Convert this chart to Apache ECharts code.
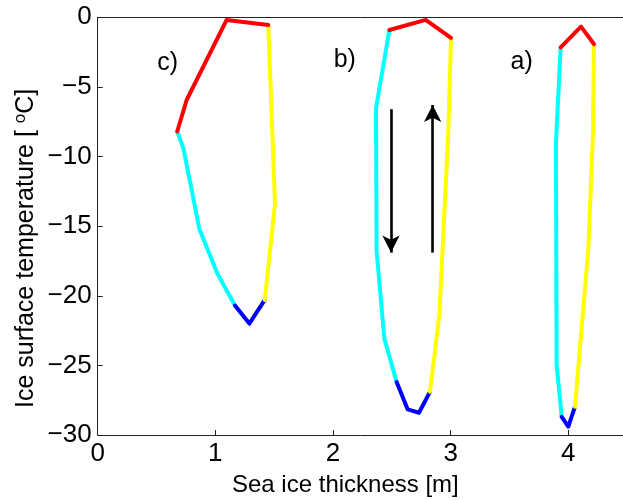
<!DOCTYPE html>
<html><head><meta charset="utf-8">
<script src="https://cdn.jsdelivr.net/npm/echarts@6/dist/echarts.min.js"></script>
<style>html,body{margin:0;padding:0;background:#fff}#c{width:623px;height:500px}</style>
</head><body><div id="c"></div>
<script>
// ---- data (x = sea ice thickness [m], y = ice surface temperature [°C]) ----
// loop c)
const cCyan   = [[0.676,-8.2],[0.728,-9.4],[0.864,-15.2],[1.017,-18.4],[1.167,-20.7]];
const cBlue   = [[1.167,-20.7],[1.289,-22.0],[1.42,-20.3]];
const cYellow = [[1.42,-20.3],[1.507,-13.4],[1.45,-0.55]];
const cRed    = [[1.45,-0.55],[1.096,-0.19],[0.756,-5.94],[0.676,-8.2]];
// loop b)
const bCyan   = [[2.479,-0.91],[2.366,-6.5],[2.37,-16.7],[2.436,-23.06],[2.541,-26.2]];
const bBlue   = [[2.541,-26.2],[2.635,-28.16],[2.731,-28.4],[2.824,-26.9]];
const bYellow = [[2.824,-26.9],[2.904,-21.4],[2.98,-8.3],[3.003,-1.47]];
const bRed    = [[3.003,-1.47],[2.788,-0.19],[2.479,-0.91]];
// loop a)
const aCyan   = [[3.935,-2.16],[3.895,-9.05],[3.901,-24.98],[3.944,-28.7]];
const aBlue   = [[3.944,-28.7],[4.0,-29.4],[4.057,-27.97]];
const aYellow = [[4.057,-27.97],[4.17,-16.7],[4.21,-8.3],[4.218,-1.92]];
const aRed    = [[4.218,-1.92],[4.108,-0.67],[3.935,-2.16]];
// arrows
const arrowDown = [[2.493,-6.6],[2.493,-16.9]];
const arrowUp   = [[2.847,-16.9],[2.847,-6.3]];
// panel labels
const panelLabels = [["c)",0.595,-3.3],["b)",2.10,-3.1],["a)",3.604,-3.2]];
// axes ticks
const xTicks = [0,1,2,3,4];
const yTicks = [-30,-25,-20,-15,-10,-5,0];
const xMax = 4.465;

const FONT = 'Liberation Sans, Arial, Helvetica, sans-serif';
const colors = {cyan:'#00FFFF', blue:'#0000FF', yellow:'#FFFF00', red:'#FF0000'};
function seg(data, color){
  return {type:'line', data:data, showSymbol:false, symbol:'none', animation:false,
          lineStyle:{color:color, width:4, cap:'round', join:'round'}, z:3};
}
const series = [];
[[cCyan,cBlue,cYellow,cRed],[bCyan,bBlue,bYellow,bRed],[aCyan,aBlue,aYellow,aRed]].forEach(l=>{
  series.push(seg(l[0],colors.cyan), seg(l[1],colors.blue), seg(l[2],colors.yellow), seg(l[3],colors.red));
});
series.push({type:'line', data:[], animation:false,
  markLine:{silent:true, symbol:['none','arrow'], symbolSize:[13,17], label:{show:false},
    lineStyle:{color:'#000', width:2.6, type:'solid'},
    data:[[{coord:arrowDown[0]},{coord:arrowDown[1]}],[{coord:arrowUp[0]},{coord:arrowUp[1]}]]}});
series.push({type:'scatter', symbolSize:1, animation:false, silent:true,
  itemStyle:{color:'rgba(0,0,0,0)', opacity:1},
  data: panelLabels.map(p=>({value:[p[1],p[2]], name:p[0]})),
  label:{show:true, position:'inside', formatter:p=>p.name, color:'#000', opacity:1,
    textBorderWidth:0, fontSize:25, fontFamily:FONT}});

const chart = echarts.init(document.getElementById('c'), null, {renderer:'canvas'});
const minus = v => String(v).replace('-', '\u2212');
chart.setOption({
  backgroundColor:'#fff',
  animation:false,
  grid:{left:97.7, top:17.3, right:0, height:417.7, containLabel:false},
  xAxis:[{type:'value', min:0, max:xMax, interval:1,
    axisLine:{show:true, onZero:false, lineStyle:{color:'#222', width:1}},
    axisTick:{show:true, inside:true, length:5, lineStyle:{color:'#222'}},
    axisLabel:{fontSize:26, color:'#000', fontFamily:FONT, margin:6, showMaxLabel:false,
      formatter:v=>xTicks.includes(v)?minus(v):''},
    splitLine:{show:false}},
   {type:'value', position:'top', min:0, max:xMax, interval:1,
    axisLine:{show:true, onZero:false, lineStyle:{color:'#222', width:1}},
    axisTick:{show:false}, axisLabel:{show:false}, splitLine:{show:false}}],
  yAxis:{type:'value', min:-30, max:0, interval:5,
    axisLine:{show:true, onZero:false, lineStyle:{color:'#222', width:1}},
    axisTick:{show:true, inside:true, length:5, lineStyle:{color:'#222'}},
    axisLabel:{fontSize:26, color:'#000', fontFamily:FONT, margin:6, formatter:v=>yTicks.includes(v)?minus(v):''},
    splitLine:{show:false}},
  graphic:[
    {type:'text', left:232, top:473, style:{text:'Sea ice thickness [m]', font:'24px '+FONT, fill:'#000'}},
    {type:'text', x:12, y:408, rotation:Math.PI/2,
     style:{text:'{a|Ice surface temperature [ }{s|o}{a|C]}', fill:'#000', verticalAlign:'top',
       rich:{a:{fontSize:25, fontFamily:FONT, fill:'#000', verticalAlign:'bottom'},
             s:{fontSize:17, fontFamily:FONT, fill:'#000', verticalAlign:'top', padding:[0,0,10,0]}}}}
  ],
  series:series
});
</script></body></html>
